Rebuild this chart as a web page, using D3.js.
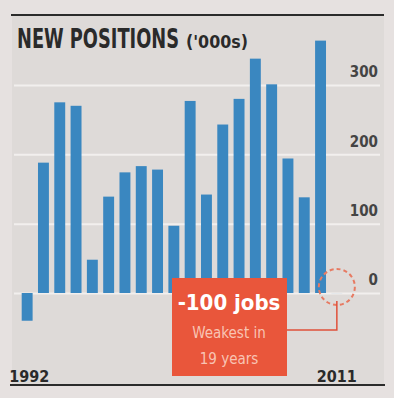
<!DOCTYPE html>
<html>
<head>
<meta charset="utf-8">
<script src="https://cdn.jsdelivr.net/npm/d3@7"></script>
<style>
  body { margin: 0; background: #e6e1e0; }
  svg { display: block; }
</style>
</head>
<body>
<svg width="394" height="398"></svg>
<script>
// new positions, thousands, 1992-2011
var years = ["1992","1993","1994","1995","1996","1997","1998","1999","2000","2001",
             "2002","2003","2004","2005","2006","2007","2008","2009","2010","2011"];
var values = [-40, 188, 275, 270, 48, 139, 174, 183, 178, 97,
              277, 142, 243, 280, 338, 301, 194, 138, 364, -0.1];
var tickValues = [0, 100, 200, 300];
var yearLabels = ["1992", "2011"];
var callout = ["-100 jobs", "Weakest in", "19 years"];

var svg = d3.select("svg"),
    width = +svg.attr("width"),
    height = +svg.attr("height");

var cond = "'DejaVu Sans Condensed', 'Liberation Sans Narrow', sans-serif";

var x = d3.scaleBand()
    .domain(years)
    .range([19, 345])
    .paddingInner(0.33)
    .paddingOuter(0.165);

var y = d3.scaleLinear()
    .domain([0, 300])
    .range([293, 85]);

// plot background
svg.append("rect")
    .attr("x", 12).attr("y", 16)
    .attr("width", 372).attr("height", 368)
    .attr("fill", "#dedad8");

// gridlines + labels
var axis = svg.append("g")
    .attr("transform", "translate(380,0)")
    .call(d3.axisRight(y).tickValues(tickValues).tickSize(-366).tickFormat(d3.format("d")));
axis.select(".domain").remove();
axis.selectAll("line").attr("stroke", "#f2efee").attr("stroke-width", 2);
axis.selectAll("text")
    .attr("x", -2)
    .attr("dy", "-0.55em")
    .attr("text-anchor", "end")
    .attr("fill", "#444")
    .style("font", "bold 15px " + cond);

// bars
svg.selectAll("rect.bar")
    .data(values)
    .enter().append("rect")
    .attr("class", "bar")
    .attr("x", function(d, i) { return x(years[i]); })
    .attr("width", x.bandwidth())
    .attr("y", function(d) { return y(Math.max(0, d)); })
    .attr("height", function(d) { return Math.abs(y(d) - y(0)); })
    .attr("fill", "#3a87c0");

// rules
svg.append("line").attr("x1", 11).attr("x2", 384).attr("y1", 15).attr("y2", 15)
    .attr("stroke", "#2b2b2b").attr("stroke-width", 2);
svg.append("line").attr("x1", 10).attr("x2", 385).attr("y1", 385).attr("y2", 385)
    .attr("stroke", "#2b2b2b").attr("stroke-width", 2);

// title, squeezed horizontally to look condensed
var squeeze = function(sel, x0, y0, w) {
  var len = sel.node().getComputedTextLength();
  sel.attr("transform", "translate(" + x0 + "," + y0 + ") scale(" + (w / len) + ",1)");
};
var t1 = svg.append("text")
    .attr("fill", "#2a2a2a")
    .style("font", "bold 27px " + cond)
    .text("NEW POSITIONS");
squeeze(t1, 17, 48, 162);
var t2 = svg.append("text")
    .attr("fill", "#2a2a2a")
    .style("font", "bold 17px " + cond)
    .text("('000s)");
squeeze(t2, 186, 48, 62);

// year labels
svg.selectAll("text.year")
    .data(yearLabels)
    .enter().append("text")
    .attr("class", "year")
    .attr("x", function(d) { return x(d) + x.bandwidth() / 2; })
    .attr("y", 382)
    .attr("text-anchor", function(d, i) { return i == 0 ? "start" : "middle"; })
    .attr("dx", function(d, i) { return i == 0 ? -18 : 0; })
    .attr("fill", "#2a2a2a")
    .style("font", "bold 16px " + cond)
    .text(function(d) { return d; });

// highlight on last bar
var last = years[years.length - 1];
var cx = x(last) + x.bandwidth() / 2, cy = y(0) - 6;
svg.append("circle")
    .attr("cx", cx).attr("cy", cy).attr("r", 18)
    .attr("fill", "none")
    .attr("stroke", "#e77a62")
    .attr("stroke-width", 2)
    .attr("stroke-dasharray", "4,3");

svg.append("path")
    .attr("d", "M" + cx + "," + (cy + 14) + "V330H287")
    .attr("fill", "none")
    .attr("stroke", "#e0503a")
    .attr("stroke-width", 1.5);

// callout box
svg.append("rect")
    .attr("x", 172).attr("y", 278)
    .attr("width", 115).attr("height", 98)
    .attr("fill", "#e9563b");

svg.selectAll("text.callout")
    .data(callout)
    .enter().append("text")
    .attr("class", "callout")
    .attr("x", 229)
    .attr("y", function(d, i) { return [310, 338, 364][i]; })
    .attr("text-anchor", "middle")
    .attr("fill", function(d, i) { return i == 0 ? "#fff" : "#f8c4b4"; })
    .style("font", function(d, i) { return i == 0 ? "bold 22px " + cond : "15px " + cond; })
    .text(function(d) { return d; });
</script>
</body>
</html>
